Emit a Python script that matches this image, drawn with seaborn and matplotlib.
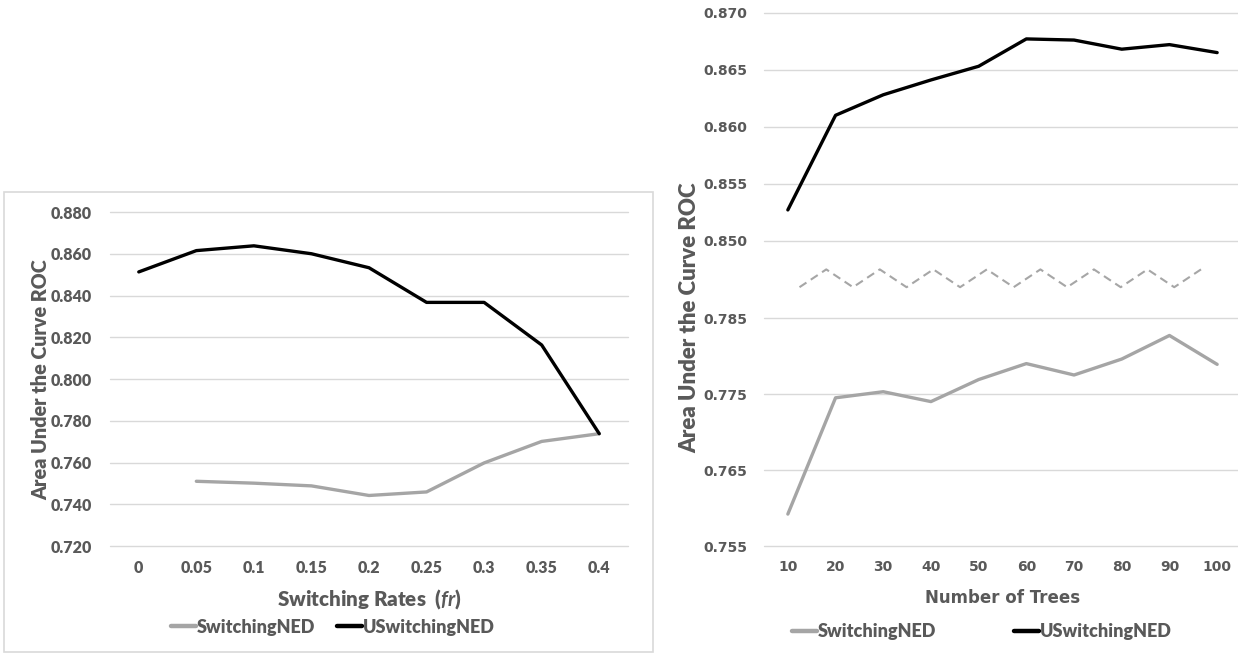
import numpy as np
import pandas as pd
import matplotlib
matplotlib.use("Agg")
import matplotlib.pyplot as plt
from matplotlib.lines import Line2D
from matplotlib.patches import Rectangle
import seaborn as sns

# ---------------- data ----------------
rate_labels = ["0", "0.05", "0.1", "0.15", "0.2", "0.25", "0.3", "0.35", "0.4"]
rate_switching = [np.nan, 0.7510, 0.7501, 0.7488, 0.7442, 0.7459, 0.7598, 0.7701, 0.7738]
rate_uswitching = [0.8513, 0.8615, 0.8638, 0.8600, 0.8533, 0.8367, 0.8367, 0.8163, 0.7738]
rate_yticks = [0.720, 0.740, 0.760, 0.780, 0.800, 0.820, 0.840, 0.860, 0.880]

tree_labels = ["10", "20", "30", "40", "50", "60", "70", "80", "90", "100"]
tree_switching = [0.7592, 0.7745, 0.7753, 0.7740, 0.7769, 0.7790, 0.7775, 0.7796, 0.7827, 0.7789]
tree_uswitching = [0.8527, 0.8610, 0.8628, 0.8641, 0.8653, 0.8677, 0.8676, 0.8668, 0.8672, 0.8665]
tree_yticks_top = [0.850, 0.855, 0.860, 0.865, 0.870]
tree_yticks_bottom = [0.755, 0.765, 0.775, 0.785]

series_names = ["SwitchingNED", "USwitchingNED"]

# ---------------- style ----------------
sns.set_theme(style="white")
plt.rcParams["font.family"] = ["Lato", "DejaVu Sans"]
plt.rcParams["mathtext.fontset"] = "custom"
plt.rcParams["mathtext.rm"] = "Lato:bold"
plt.rcParams["mathtext.it"] = "Lato:italic:bold"

TXT = "#595959"
GRID = "#D9D9D9"
GRAY = "#A5A5A5"
BLACK = "#000000"
LW = 2.4

W, H = 1238, 653
fig = plt.figure(figsize=(W / 100, H / 100), dpi=100)


def fbox(x0, y0, x1, y1):
    """pixel box (top-left origin) -> figure fraction [l, b, w, h]"""
    return [x0 / W, 1 - y1 / H, (x1 - x0) / W, (y1 - y0) / H]


# ---------------- left panel ----------------
fig.patches.append(Rectangle((4 / W, 1 - 652 / H), 649 / W, 460 / H,
                             transform=fig.transFigure, fill=False,
                             edgecolor=GRID, linewidth=1.2))

axL = fig.add_axes(fbox(110, 212, 628, 546))
xL = np.arange(len(rate_labels))
dfL = pd.DataFrame({"x": xL, "s": rate_switching, "u": rate_uswitching})
sns.lineplot(data=dfL, x="x", y="s", ax=axL, color=GRAY, linewidth=LW)
sns.lineplot(data=dfL, x="x", y="u", ax=axL, color=BLACK, linewidth=LW)
axL.set_xlim(-0.5, len(rate_labels) - 0.5)
axL.set_ylim(0.720, 0.880)
axL.set_yticks(rate_yticks)
axL.set_yticklabels([f"{v:.3f}" for v in rate_yticks])
axL.set_xticks(xL)
axL.set_xticklabels(rate_labels)
for lab in axL.get_xticklabels() + axL.get_yticklabels():
    lab.set_fontweight("heavy")
    lab.set_color(TXT)
    lab.set_fontsize(11.5)
axL.tick_params(axis="both", length=0)
axL.tick_params(axis="y", pad=13)
axL.tick_params(axis="x", pad=10)
axL.yaxis.grid(True, color=GRID, linewidth=1)
for gl in axL.get_ygridlines():
    gl.set_clip_on(False)
for sp in axL.spines.values():
    sp.set_visible(False)
axL.set_xlabel(r"Switching Rates  ($\it{fr}$)", fontsize=14.8, color=TXT, fontweight="heavy")
axL.xaxis.set_label_coords(0.5, -0.124)
axL.set_ylabel("Area Under the Curve ROC", fontsize=14.2, color=TXT, fontweight="heavy")
axL.yaxis.set_label_coords(-0.134, 0.497)
axL.yaxis.label.set_va("center")

legL = [Line2D([], [], color=GRAY, linewidth=3.2), Line2D([], [], color=BLACK, linewidth=3.2)]
leg1 = fig.legend(legL, series_names, loc="center", bbox_to_anchor=(333 / W, 1 - 627 / H),
                  ncol=2, frameon=False, handlelength=1.4, handletextpad=0.05,
                  columnspacing=1.2, prop={"family": "Lato", "weight": "heavy", "size": 13})
for t in leg1.get_texts():
    t.set_color(TXT)

# ---------------- right panel (broken axis) ----------------
axT = fig.add_axes(fbox(764, 12.7, 1241, 240.7))
axB = fig.add_axes(fbox(764, 318, 1241, 546))
xR = np.arange(len(tree_labels))
dfR = pd.DataFrame({"x": xR, "s": tree_switching, "u": tree_uswitching})
sns.lineplot(data=dfR, x="x", y="u", ax=axT, color=BLACK, linewidth=LW)
sns.lineplot(data=dfR, x="x", y="s", ax=axB, color=GRAY, linewidth=LW)

axT.set_ylim(0.850, 0.870)
axB.set_ylim(0.755, 0.785)
axT.set_yticks(tree_yticks_top)
axT.set_yticklabels([f"{v:.3f}" for v in tree_yticks_top])
axB.set_yticks(tree_yticks_bottom)
axB.set_yticklabels([f"{v:.3f}" for v in tree_yticks_bottom])
for ax in (axT, axB):
    ax.set_xlim(-0.5, len(tree_labels) - 0.5)
    ax.set_xticks(xR)
    ax.tick_params(axis="both", length=0)
    ax.tick_params(axis="y", pad=12)
    ax.tick_params(axis="x", pad=10)
    ax.yaxis.grid(True, color=GRID, linewidth=1)
    for gl in ax.get_ygridlines():
        gl.set_clip_on(False)
    for sp in ax.spines.values():
        sp.set_visible(False)
    ax.set_xlabel("")
    ax.set_ylabel("")
axT.set_xticklabels([])
axB.set_xticklabels(tree_labels)
for lab in axT.get_yticklabels() + axB.get_yticklabels() + axB.get_xticklabels():
    lab.set_family("DejaVu Sans")
    lab.set_fontweight("bold")
    lab.set_color(TXT)
    lab.set_fontsize(10)

axB.set_xlabel("Number of Trees", fontsize=12, color=TXT, fontweight="bold", family="DejaVu Sans")
axB.xaxis.set_label_coords(0.5, -0.19)
fig.text(690 / W, 1 - 318 / H, "Area Under the Curve ROC", rotation=90, ha="center", va="center",
         fontsize=16, color=TXT, fontweight="heavy", family="Lato")

# zigzag axis-break marker between the two parts
nz = 16
zx = np.linspace(799.5, 1201, nz)
zy = np.where(np.arange(nz) % 2 == 0, 287.2, 269.4)
fig.lines.append(Line2D(zx / W, 1 - zy / H, transform=fig.transFigure, color="#A6A6A6",
                        linewidth=1.5, linestyle=(0, (4, 2.5))))

legR = [Line2D([], [], color=GRAY, linewidth=3.2), Line2D([], [], color=BLACK, linewidth=3.2)]
leg2 = fig.legend(legR, series_names, loc="center", bbox_to_anchor=(982 / W, 1 - 632 / H),
                  ncol=2, frameon=False, handlelength=1.4, handletextpad=0.05,
                  columnspacing=4.3, prop={"family": "Lato", "weight": "heavy", "size": 13})
for t in leg2.get_texts():
    t.set_color(TXT)

fig.savefig("out.png", dpi=100)
